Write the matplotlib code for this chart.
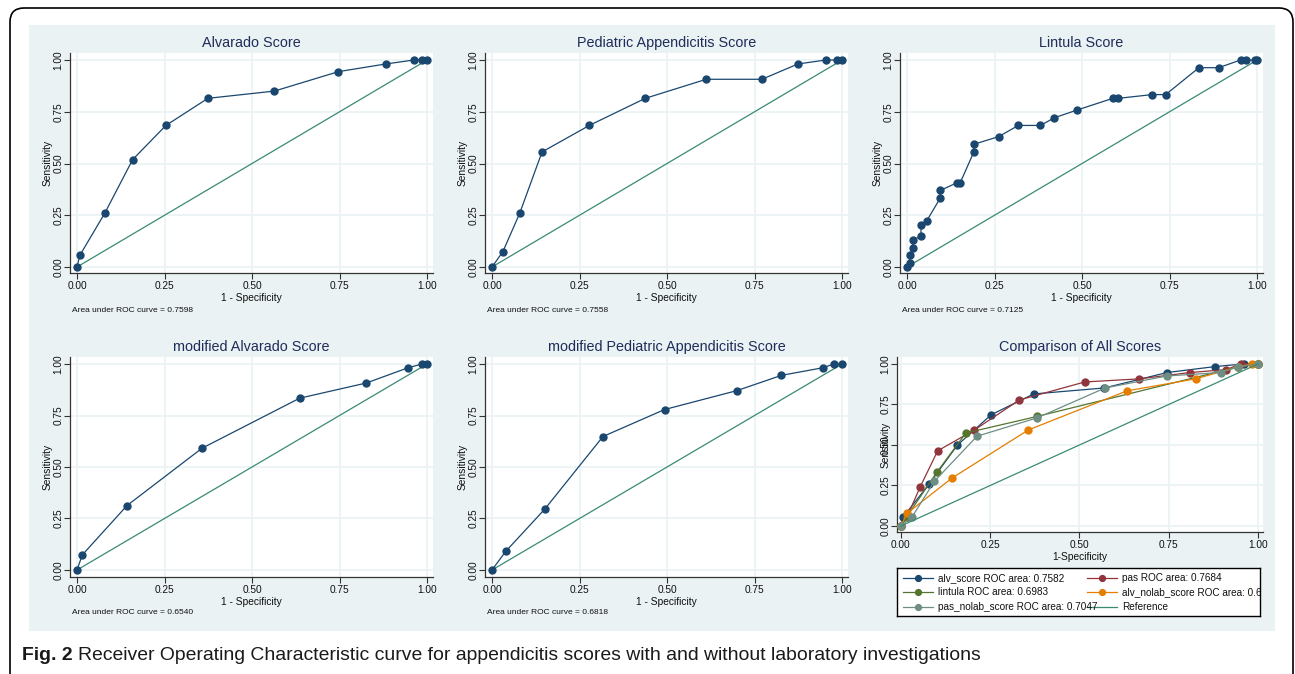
import matplotlib
matplotlib.use('Agg')
import matplotlib.pyplot as plt
from matplotlib.patches import FancyBboxPatch, Rectangle
from matplotlib.transforms import IdentityTransform

plt.rcParams['font.family'] = ['Liberation Sans', 'DejaVu Sans']

# ROC points (1 - specificity, sensitivity)
alv_fpr = [0, 0.008, 0.079, 0.159, 0.254, 0.374, 0.564, 0.747, 0.882, 0.962, 0.986, 1.0]
alv_sens = [0, 0.056, 0.259, 0.519, 0.684, 0.815, 0.850, 0.944, 0.981, 1.0, 1.0, 1.0]

pas_fpr = [0, 0.031, 0.079, 0.143, 0.278, 0.438, 0.612, 0.771, 0.874, 0.953, 0.986, 1.0]
pas_sens = [0, 0.074, 0.259, 0.556, 0.684, 0.815, 0.907, 0.907, 0.981, 1.0, 1.0, 1.0]

lin_fpr = [0, 0.008, 0.008, 0.016, 0.016, 0.040, 0.040, 0.056, 0.095, 0.095, 0.143, 0.152,
           0.191, 0.191, 0.262, 0.318, 0.381, 0.421, 0.485, 0.588, 0.604, 0.700, 0.739,
           0.834, 0.890, 0.953, 0.969, 0.993, 1.0]
lin_sens = [0, 0.018, 0.056, 0.093, 0.130, 0.148, 0.204, 0.222, 0.333, 0.370, 0.407, 0.407,
            0.556, 0.593, 0.630, 0.684, 0.684, 0.721, 0.758, 0.815, 0.815, 0.833, 0.833,
            0.963, 0.963, 1.0, 1.0, 1.0, 1.0]

malv_fpr = [0, 0.015, 0.143, 0.357, 0.636, 0.827, 0.946, 0.986, 1.0]
malv_sens = [0, 0.073, 0.313, 0.591, 0.834, 0.908, 0.982, 1.0, 1.0]

mpas_fpr = [0, 0.039, 0.151, 0.317, 0.493, 0.700, 0.827, 0.946, 0.977, 1.0]
mpas_sens = [0, 0.090, 0.296, 0.648, 0.779, 0.871, 0.945, 0.982, 1.0, 1.0]

# comparison panel
c_alv_fpr = [0, 0.006, 0.079, 0.158, 0.253, 0.372, 0.570, 0.745, 0.880, 0.960, 1.0]
c_alv_sens = [0, 0.055, 0.259, 0.499, 0.687, 0.815, 0.852, 0.947, 0.984, 1.0, 1.0]
c_pas_fpr = [0, 0.017, 0.054, 0.103, 0.206, 0.332, 0.515, 0.667, 0.809, 0.911, 0.951, 1.0]
c_pas_sens = [0, 0.055, 0.242, 0.464, 0.593, 0.778, 0.889, 0.908, 0.947, 0.965, 1.0, 1.0]
c_lin_fpr = [0, 0.016, 0.101, 0.182, 0.381, 0.945, 1.0]
c_lin_sens = [0, 0.056, 0.333, 0.574, 0.676, 0.982, 1.0]
c_anl_fpr = [0, 0.017, 0.143, 0.357, 0.633, 0.825, 0.944, 0.983, 1.0]
c_anl_sens = [0, 0.078, 0.296, 0.593, 0.834, 0.908, 0.982, 1.0, 1.0]
c_pnl_fpr = [0, 0.031, 0.094, 0.213, 0.381, 0.572, 0.745, 0.895, 0.944, 1.0]
c_pnl_sens = [0, 0.055, 0.277, 0.554, 0.667, 0.852, 0.926, 0.947, 0.982, 1.0]

titles = ['Alvarado Score', 'Pediatric Appendicitis Score', 'Lintula Score',
          'modified Alvarado Score', 'modified Pediatric Appendicitis Score']
auc_notes = ['Area under ROC curve = 0.7598', 'Area under ROC curve = 0.7558',
             'Area under ROC curve = 0.7125', 'Area under ROC curve = 0.6540',
             'Area under ROC curve = 0.6818']
legend_labels = ['alv_score ROC area: 0.7582', 'pas ROC area: 0.7684',
                 'lintula ROC area: 0.6983', 'alv_nolab_score ROC area: 0.6540',
                 'pas_nolab_score ROC area: 0.7047', 'Reference']
ticks = [0, 0.25, 0.5, 0.75, 1.0]
tick_labels = ['0.00', '0.25', '0.50', '0.75', '1.00']

NAVY = '#1a476f'
MAROON = '#90353b'
GREEN = '#55752f'
ORANGE = '#e37e00'
TEAL = '#6e8e84'
REF = '#3a8a74'
BG = '#eaf2f3'
TITLE_C = '#1e2d5a'

W, H = 1295, 674
fig = plt.figure(figsize=(W / 100, H / 100), dpi=100)
fig.patch.set_facecolor('white')

# outer rounded frame and grey graph region (behind the axes)
fig.patches.append(FancyBboxPatch((10, -20), 1283, 686, boxstyle='round,pad=0,rounding_size=14',
                                  transform=IdentityTransform(), fc='white', ec='black', lw=1.2,
                                  zorder=-2))
fig.patches.append(Rectangle((29, H - 631), 1246, 606, transform=IdentityTransform(),
                             fc=BG, ec='none', zorder=-1))


def px_axes(left, top, right, bottom):
    return fig.add_axes([left / W, 1 - bottom / H, (right - left) / W, (bottom - top) / H])


def style(ax, ylim, xlim, xlabel):
    ax.set_facecolor('white')
    ax.set_xlim(*xlim)
    ax.set_ylim(*ylim)
    for s in ['top', 'right']:
        ax.spines[s].set_visible(False)
    for s in ['left', 'bottom']:
        ax.spines[s].set_color('#333333')
        ax.spines[s].set_linewidth(0.9)
    ax.set_xticks(ticks)
    ax.set_yticks(ticks)
    ax.set_xticklabels(tick_labels)
    ax.set_yticklabels(tick_labels, rotation=90, va='center')
    ax.tick_params(length=4, width=0.8, color='#333333', labelsize=7.3, labelcolor='#111111', pad=2)
    ax.tick_params(axis='y', pad=0.5)
    ax.grid(True, color=BG, lw=1.2)
    ax.set_axisbelow(True)
    ax.set_xlabel(xlabel, fontsize=7.4, color='#111111', labelpad=1)
    ax.set_ylabel('Sensitivity', fontsize=7.4, color='#111111', labelpad=1)


single = [(alv_fpr, alv_sens), (pas_fpr, pas_sens), (lin_fpr, lin_sens),
          (malv_fpr, malv_sens), (mpas_fpr, mpas_sens)]
boxes = [(70, 53, 433, 273), (485, 53, 848, 273), (900, 53, 1263, 273),
         (70, 357, 433, 577), (485, 357, 848, 577)]

for i in range(5):
    l, t, r, b = boxes[i]
    ax = px_axes(l, t, r, b)
    ylim = (-0.029, 1.034) if i < 3 else (-0.034, 1.034)
    style(ax, ylim, (-0.02, 1.017), '1 - Specificity')
    x, y = single[i]
    ax.plot(x, y, color=NAVY, lw=0.9, marker='o', ms=5, clip_on=False, zorder=3)
    ax.plot([0, 1], [0, 1], color=REF, lw=0.9, zorder=2)
    ax.set_title(titles[i], fontsize=10.4, color=TITLE_C, pad=4)
    note_y = 310 if i < 3 else 613
    fig.text((l + 2) / W, 1 - note_y / H, auc_notes[i], fontsize=6.0, color='#111111',
             va='center', ha='left')

# comparison of all scores
ax = px_axes(897, 357, 1263, 532)
style(ax, (-0.037, 1.043), (-0.011, 1.014), '1-Specificity')
ax.yaxis.labelpad = -7
series = [(c_alv_fpr, c_alv_sens, NAVY), (c_pas_fpr, c_pas_sens, MAROON),
          (c_lin_fpr, c_lin_sens, GREEN), (c_anl_fpr, c_anl_sens, ORANGE),
          (c_pnl_fpr, c_pnl_sens, TEAL)]
for x, y, c in series:
    ax.plot(x, y, color=c, lw=0.9, marker='o', ms=5, clip_on=False, zorder=3)
ax.plot([0, 1], [0, 1], color=REF, lw=0.9, zorder=3)
ax.set_title('Comparison of All Scores', fontsize=10.4, color=TITLE_C, pad=4)

# legend box, drawn by hand so the long label runs into the frame like the original
lg = px_axes(897, 568, 1260, 616)
lg.set_xlim(897, 1260)
lg.set_ylim(616, 568)
lg.set_xticks([])
lg.set_yticks([])
for s in lg.spines.values():
    s.set_color('black')
    s.set_linewidth(1.0)
leg_colors = [NAVY, MAROON, GREEN, ORANGE, TEAL, REF]
leg_rows = [578, 578, 592, 592, 607, 607]
leg_cols = [903, 1087, 903, 1087, 903, 1087]
for k in range(6):
    x0, yy = leg_cols[k], leg_rows[k]
    lg.plot([x0, x0 + 30], [yy, yy], color=leg_colors[k], lw=0.9)
    if k < 5:
        lg.plot([x0 + 15], [yy], color=leg_colors[k], marker='o', ms=4.2)
    lg.text(x0 + 35, yy, legend_labels[k], fontsize=7.2, va='center', ha='left',
            color='#111111', clip_on=True)

# caption, sized so it spans the same width as in the original
cap_y = 1 - 655 / H
cap_font = ['Liberation Sans Narrow', 'Liberation Sans']
t1 = fig.text(22 / W, cap_y, 'Fig. 2', fontsize=13, fontweight='bold', va='center',
              family=cap_font, color='#1a1a1a')
t2 = fig.text(0, cap_y,
              'Receiver Operating Characteristic curve for appendicitis scores with and without laboratory investigations',
              fontsize=13, va='center', family=cap_font, color='#1a1a1a')
for _ in range(3):
    fig.canvas.draw()
    e1 = t1.get_window_extent()
    t2.set_x((e1.x1 + 5) / W)
    fig.canvas.draw()
    e2 = t2.get_window_extent()
    scale = (985 - 22) / (e2.x1 - e1.x0)
    t1.set_fontsize(t1.get_fontsize() * scale)
    t2.set_fontsize(t2.get_fontsize() * scale)
fig.canvas.draw()
t2.set_x((t1.get_window_extent().x1 + 5) / W)

fig.savefig('out.png', dpi=100)
